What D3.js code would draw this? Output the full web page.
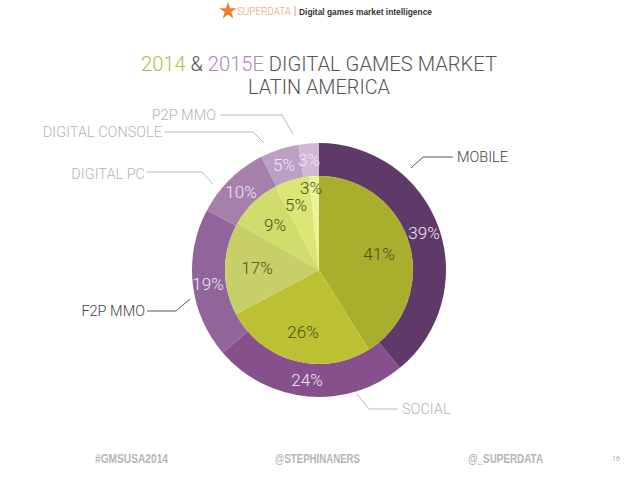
<!DOCTYPE html>
<html>
<head>
<meta charset="utf-8">
<script src="https://d3js.org/d3.v7.min.js"></script>
<style>
  html, body { margin: 0; padding: 0; background: #fff; }
  text { font-family: Roboto, "Liberation Sans", Arial, sans-serif; font-weight: 300; }
  .narrow { font-family: "Liberation Sans", Arial, sans-serif; font-weight: bold; }
</style>
</head>
<body>
<script>
// slice sizes, the printed labels are rounded differently
const categories = ['MOBILE', 'SOCIAL', 'F2P MMO', 'DIGITAL PC', 'DIGITAL CONSOLE', 'P2P MMO'];
const shares2014 = [41.1, 26.1, 16.1, 9, 6, 1.7];
const shares2015 = [39, 24.7, 19.1, 9.7, 4.9, 2.6];
const labels2014 = ['41%', '26%', '17%', '9%', '5%', '3%'];
const labels2015 = ['39%', '24%', '19%', '10%', '5%', '3%'];
const footerLabels = ['#GMSUSA2014', '@STEPHINANERS', '@_SUPERDATA'];

const innerColors = ['#a9ae2d', '#bcc033', '#c7cf68', '#d0dc6c', '#dbe674', '#eaf398'];
const outerColors = ['#5f3a68', '#86508c', '#90659a', '#a680aa', '#bc9fc2', '#d0b9d5'];

const w = 638, h = 479;
const cx = 319, cy = 270;
const innerR = 94, outerR = 127;

const svg = d3.select('body').append('svg')
    .attr('width', w)
    .attr('height', h)
    .style('display', 'block');

// header
svg.append('path')
    .attr('d', d3.symbol().type(d3.symbolStar).size(95)())
    .attr('transform', 'translate(228,11)')
    .attr('fill', '#ee7b30');
svg.append('text').attr('x', 237).attr('y', 15)
    .attr('font-size', 10.5).attr('fill', '#ee9a66')
    .attr('textLength', 54).attr('lengthAdjust', 'spacingAndGlyphs').text('SUPERDATA');
svg.append('line').attr('x1', 295).attr('x2', 295).attr('y1', 6).attr('y2', 16)
    .attr('stroke', '#999').attr('stroke-width', 0.8);
svg.append('text').attr('class', 'narrow').attr('x', 299).attr('y', 15)
    .attr('font-size', 9).attr('fill', '#333')
    .attr('textLength', 133).attr('lengthAdjust', 'spacingAndGlyphs')
    .text('Digital games market intelligence');

// title
const title = svg.append('text').attr('x', 141).attr('y', 71)
    .attr('font-size', 20).attr('fill', '#555')
    .attr('textLength', 356).attr('lengthAdjust', 'spacingAndGlyphs');
title.append('tspan').attr('fill', '#b8bb4a').text('2014');
title.append('tspan').text(' & ');
title.append('tspan').attr('fill', '#ab8cb3').text('2015E');
title.append('tspan').text(' DIGITAL GAMES MARKET');
svg.append('text').attr('x', 248).attr('y', 94)
    .attr('font-size', 20).attr('fill', '#555')
    .attr('textLength', 142).attr('lengthAdjust', 'spacingAndGlyphs')
    .text('LATIN AMERICA');

// rings
const pie = d3.pie().sort(null);
const chart = svg.append('g').attr('transform', 'translate(' + cx + ',' + cy + ')');

chart.selectAll('.outer')
    .data(pie(shares2015))
    .enter().append('path')
    .attr('class', 'outer')
    .attr('d', d3.arc().innerRadius(innerR).outerRadius(outerR))
    .attr('fill', (d, i) => outerColors[i]);

chart.selectAll('.inner')
    .data(pie(shares2014))
    .enter().append('path')
    .attr('class', 'inner')
    .attr('d', d3.arc().innerRadius(0).outerRadius(innerR))
    .attr('fill', (d, i) => innerColors[i]);

// percent labels are placed by hand in the original, not on the centroids
const outerLabelPos = [[424, 233], [307, 380], [208, 284], [241, 192], [284, 165], [309, 160]];
const innerLabelPos = [[379, 254], [303, 332], [257, 268], [275, 225], [296, 205], [311, 188]];

svg.selectAll('.outerLabel')
    .data(labels2015)
    .enter().append('text')
    .attr('class', 'outerLabel')
    .attr('x', (d, i) => outerLabelPos[i][0])
    .attr('y', (d, i) => outerLabelPos[i][1])
    .attr('dy', '.35em')
    .attr('text-anchor', 'middle')
    .attr('font-size', 17)
    .attr('fill', '#f1e9f3')
    .text(d => d);

svg.selectAll('.innerLabel')
    .data(labels2014)
    .enter().append('text')
    .attr('class', 'innerLabel')
    .attr('x', (d, i) => innerLabelPos[i][0])
    .attr('y', (d, i) => innerLabelPos[i][1])
    .attr('dy', '.35em')
    .attr('text-anchor', 'middle')
    .attr('font-size', 17)
    .attr('fill', '#4c4f1c')
    .text(d => d);

// category labels and leader lines
const labelPos = [[457, 157, 'start'], [402, 409, 'start'], [145, 311, 'end'], [145, 174, 'end'], [162, 132, 'end'], [216, 115, 'end']];
const labelColors = ['#444', '#b5b5b5', '#444', '#b5b5b5', '#b5b5b5', '#b5b5b5'];
const leaders = [
    [[453, 157], [423, 157], [411, 168]],
    [[398, 409], [369, 409], [357, 394]],
    [[147, 311], [176, 311], [190, 299]],
    [[147, 172], [202, 172], [213, 184]],
    [[165, 132], [253, 132], [264, 143]],
    [[220, 115], [282, 115], [293, 134]]
];
const leaderColors = ['#555', '#bbb', '#555', '#bbb', '#bbb', '#bbb'];

svg.selectAll('.leader')
    .data(leaders)
    .enter().append('path')
    .attr('class', 'leader')
    .attr('d', d3.line())
    .attr('fill', 'none')
    .attr('stroke', (d, i) => leaderColors[i])
    .attr('stroke-width', 1);

svg.selectAll('.catLabel')
    .data(categories)
    .enter().append('text')
    .attr('class', 'catLabel')
    .attr('x', (d, i) => labelPos[i][0])
    .attr('y', (d, i) => labelPos[i][1])
    .attr('dy', '.35em')
    .attr('text-anchor', (d, i) => labelPos[i][2])
    .attr('font-size', 14.5)
    .attr('fill', (d, i) => labelColors[i])
    .text(d => d);

// footer
const footerX = [95, 275, 468];
const footerW = [73, 85, 75];
svg.selectAll('.footer')
    .data(footerLabels)
    .enter().append('text')
    .attr('class', 'footer narrow')
    .attr('x', (d, i) => footerX[i])
    .attr('y', 463)
    .attr('font-size', 12)
    .attr('textLength', (d, i) => footerW[i])
    .attr('lengthAdjust', 'spacingAndGlyphs')
    .attr('fill', '#b5b5b5')
    .text(d => d);
svg.append('text').attr('x', 616).attr('y', 461)
    .attr('text-anchor', 'middle').attr('font-size', 7).attr('fill', '#777').text('16');
</script>
</body>
</html>
